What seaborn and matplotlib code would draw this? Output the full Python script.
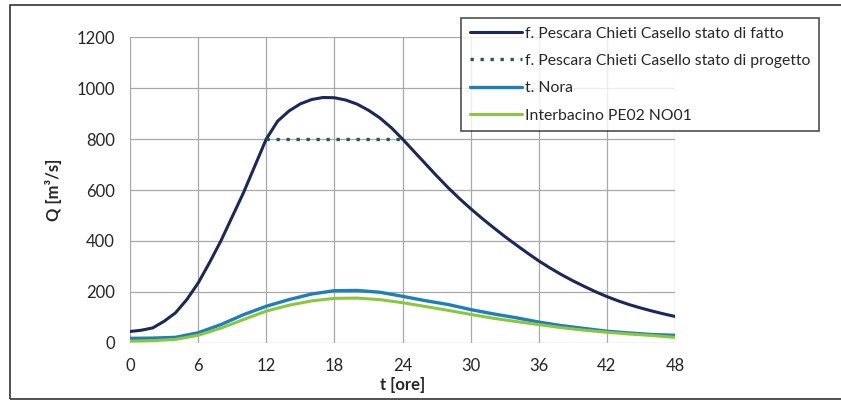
import numpy as np
import pandas as pd
import seaborn as sns
import matplotlib.pyplot as plt
from matplotlib.patches import Rectangle

# ore
t = list(range(0, 49))
t2 = list(range(0, 49, 2))

# f. Pescara Chieti Casello - stato di fatto
q_fatto = [45, 50, 59, 85, 118, 170, 235, 315, 400, 495, 590, 695, 800,
           870, 910, 938, 955, 963, 962, 953, 937, 913, 883, 845, 800,
           752, 704, 656, 610, 567, 527, 489, 453, 418, 385, 353, 322,
           294, 268, 244, 222, 201, 182, 165, 150, 137, 125, 114, 104]

# stato di progetto: laminazione a 800 tra 12 e 24 ore
t_prog = [12, 14, 16, 18, 20, 22, 24]
q_prog = [800, 800, 800, 800, 800, 800, 800]

# t. Nora
q_nora = [18, 19, 22, 40, 72, 111, 144, 170, 192, 205, 206, 199, 183,
          166, 151, 131, 114, 99, 82, 68, 57, 46, 39, 33, 30]

# Interbacino PE02 NO01
q_inter = [7, 9, 14, 30, 58, 92, 125, 148, 165, 175, 176, 170, 158,
           143, 128, 112, 97, 84, 72, 60, 50, 42, 35, 29, 22]

x_ticks = [0, 6, 12, 18, 24, 30, 36, 42, 48]
y_ticks = [0, 200, 400, 600, 800, 1000, 1200]

sns.set_style('white')
plt.rcParams['font.family'] = ['Lato', 'DejaVu Sans']

fig = plt.figure(figsize=(8.41, 4.03), dpi=100)
ax = fig.add_axes([0.1546, 0.149, 0.648, 0.759])

sns.lineplot(x=t, y=q_fatto, ax=ax, color='#1b2858', lw=2.2,
             label='f. Pescara Chieti Casello stato di fatto')
sns.lineplot(x=t_prog, y=q_prog, ax=ax, color='#1e5a5a', lw=2.4,
             linestyle=(0, (1, 2)), label='f. Pescara Chieti Casello stato di progetto')
sns.lineplot(x=t2, y=q_nora, ax=ax, color='#1f7fb8', lw=2.4, label='t. Nora')
sns.lineplot(x=t2, y=q_inter, ax=ax, color='#8cc63f', lw=2.2,
             label='Interbacino PE02 NO01')

ax.set_xlim(0, 48)
ax.set_ylim(0, 1200)
ax.set_xticks(x_ticks)
ax.set_yticks(y_ticks)
ax.grid(True, color='#a8a8a8', lw=0.9)
for s in ax.spines.values():
    s.set_visible(False)
ax.tick_params(length=0, labelsize=12, pad=11)
ax.set_xlabel('t [ore]', fontsize=12, fontweight='bold', labelpad=2)
ax.set_ylabel('Q [m³/s]', fontsize=12, fontweight='bold', labelpad=10)

leg = ax.legend(loc='upper left', bbox_to_anchor=(0.539, 0.975),
                bbox_transform=fig.transFigure, fontsize=11.3, frameon=True,
                fancybox=False, edgecolor='#222222', handlelength=3.3,
                handletextpad=0.2, labelspacing=0.85, borderpad=0.55)
leg.get_frame().set_linewidth(1.2)

# cornice esterna del grafico
fig.patches.append(Rectangle((0.012, 0.01), 1.0, 0.978, transform=fig.transFigure,
                             fill=False, edgecolor='#333333', lw=1.2))

fig.savefig('out.png', dpi=100)
